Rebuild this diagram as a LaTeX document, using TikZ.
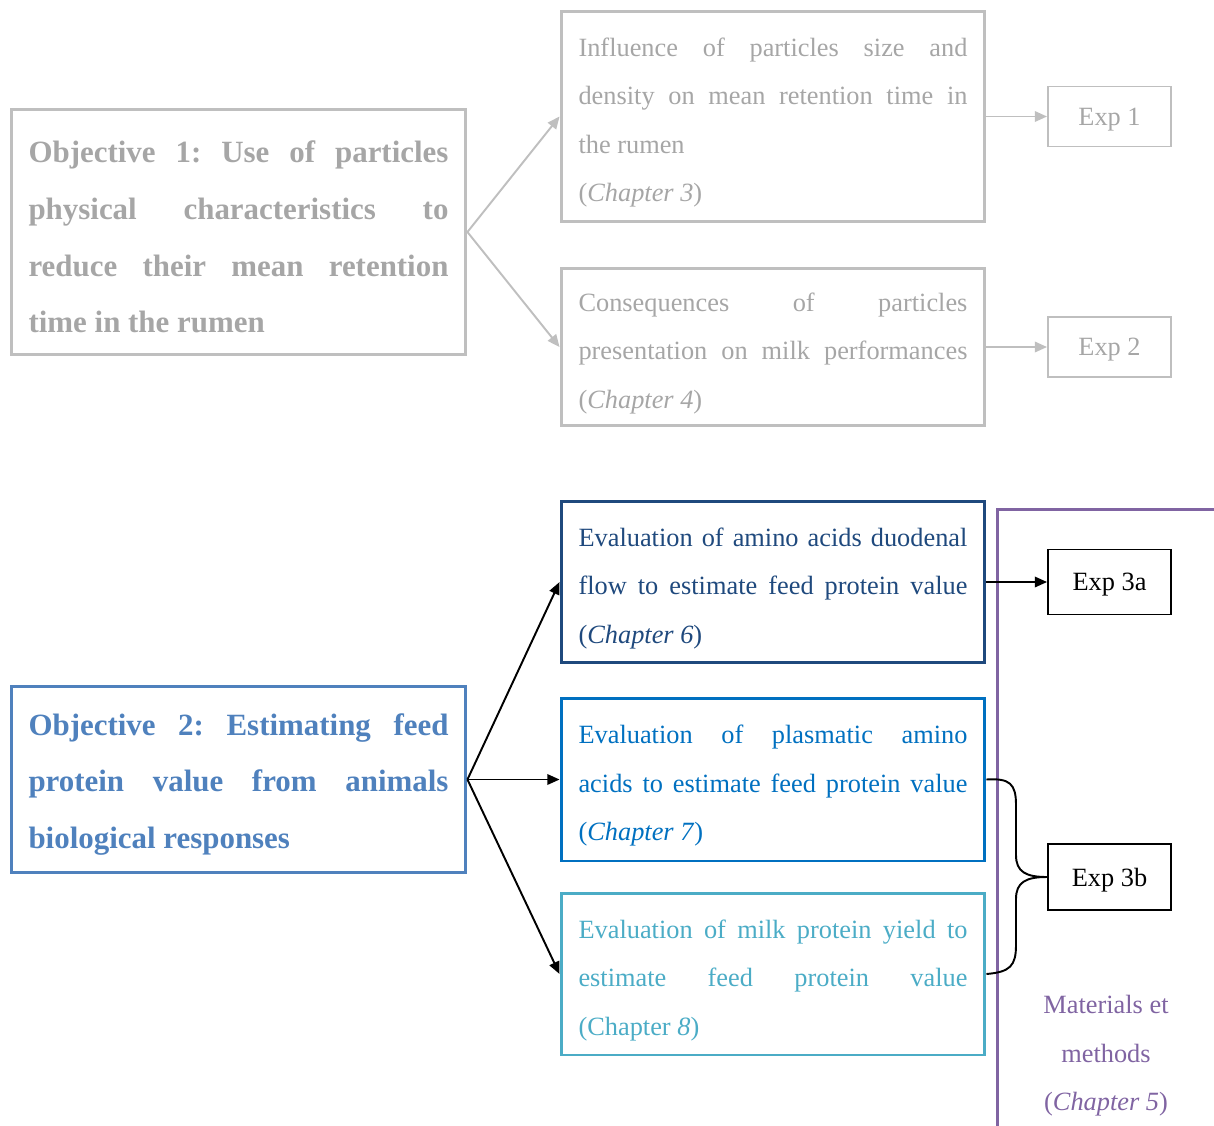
\documentclass[tikz,border=0pt]{standalone}
\usepackage{fontspec}
\setmainfont{Liberation Serif}
\usepackage{xcolor}
\usetikzlibrary{arrows.meta}
\definecolor{boxgray}{HTML}{BFBFBF}
\definecolor{txtgray}{HTML}{A6A6A6}
\definecolor{objblue}{HTML}{4F81BD}
\definecolor{darkblue}{HTML}{1F497D}
\definecolor{midblue}{HTML}{0070C0}
\definecolor{lightblue}{HTML}{4BACC6}
\definecolor{mmpurple}{HTML}{8064A2}
\tolerance=9999
\hyphenpenalty=10000
\frenchspacing
\tikzset{
  txt/.style={font=\fontsize{15}{27.6}\selectfont},
  objbox/.style={draw, line width=1.7pt, text width=8.4cm, inner xsep=0.35cm, inner ysep=0pt,
                 align=justify, font=\fontsize{17.6}{32.3}\selectfont\bfseries,
                 execute at begin node={\leavevmode\rule{0pt}{18pt}}},
  chapbox/.style={draw, line width=1.7pt, text width=7.78cm, inner xsep=0.35cm, inner ysep=0pt,
                  align=justify, txt, execute at begin node={\leavevmode\rule{0pt}{17.5pt}}},
  expbox/.style={draw, minimum width=2.46cm, inner sep=0pt, text depth=0pt, txt},
  grayarrow/.style={boxgray, line width=1.1pt, -{Triangle[length=7pt,width=6pt]}},
  blackarrow/.style={black, line width=1.1pt, -{Triangle[length=7pt,width=6pt]}},
}
\begin{document}
\begin{tikzpicture}[x=0.02cm, y=-0.02cm]
\useasboundingbox (0,0) rectangle (1214,1126);

%%%%------------Objective 1----------------%%
\node [objbox, boxgray, text=txtgray, minimum height=4.9cm] (obj1) at (238.5,232)
  {Objective 1: Use of particles\linebreak physical characteristics to\linebreak reduce their mean retention\linebreak time in the rumen};

\node [chapbox, boxgray, text=txtgray, minimum height=4.22cm] (influence) at (773,116.5)
  {Influence of particles size and\linebreak density on mean retention time in\linebreak the rumen\\(\textit{Chapter 3})};
\node [chapbox, boxgray, text=txtgray, minimum height=3.16cm] (conseq) at (773,347)
  {Consequences of particles\linebreak presentation on milk performances\linebreak (\textit{Chapter 4})};

\node [expbox, boxgray, text=txtgray, line width=1.1pt, minimum height=1.2cm] (exp1) at (1109.5,116.5)	{Exp 1};
\node [expbox, boxgray, text=txtgray, line width=1.1pt, minimum height=1.2cm] (exp2) at (1109.5,347)	{Exp 2};

\draw [grayarrow] (obj1.east) -- (influence.west)		;
\draw [grayarrow] (obj1.east) -- (conseq.west)			;
\draw [grayarrow] (influence.east) -- (exp1.west)		;
\draw [grayarrow] (conseq.east) -- (exp2.west)			;

%%%%------------Objective 2----------------%%
\node [objbox, objblue, text=objblue, minimum height=3.74cm] (obj2) at (238.5,779.5)
  {Objective 2: Estimating feed\linebreak protein value from animals\linebreak biological responses};

\node [chapbox, darkblue, text=darkblue, minimum height=3.24cm] (duoden) at (773,582)
  {Evaluation of amino acids duodenal\linebreak flow to estimate feed protein value\linebreak (\textit{Chapter 6})};
\node [chapbox, midblue, text=midblue, minimum height=3.26cm] (plasma) at (773,779.5)
  {Evaluation of plasmatic amino\linebreak acids to estimate feed protein value\linebreak (\textit{Chapter 7})};
\node [chapbox, lightblue, text=lightblue, minimum height=3.24cm] (milk) at (773,974)
  {Evaluation of milk protein yield to\linebreak estimate feed protein value\linebreak (Chapter \textit{8})};

\draw [blackarrow] (obj2.east) -- (duoden.west)		;
\draw [blackarrow] (obj2.east) -- (plasma.west)		;
\draw [blackarrow] (obj2.east) -- (milk.west)			;

%%%-------------Materials et methods-------------%%%
\draw [mmpurple, line width=1.7pt] (997,1126) -- (997,509) -- (1214,509)	;
\node [txt, text=mmpurple, align=center, font=\fontsize{15}{27.6}\selectfont] (mm) at (1106,1056)
  {Materials et\\methods\\(\textit{Chapter 5})};

%%%-----------Exp 3-----------%%%
\node [expbox, line width=1.1pt, minimum height=1.3cm] (exp3a) at (1109.5,582)	{Exp 3a};
\node [expbox, line width=1.1pt, minimum height=1.32cm] (exp3b) at (1109.5,877)	{Exp 3b};

\draw [blackarrow] (duoden.east) -- (exp3a.west)		;
\draw [line width=1.1pt] (plasma.east) .. controls (1010,778) and (1016,784) .. (1016,805)
   -- (1016,855) .. controls (1016,872) and (1026,877) .. (exp3b.west)	;
\draw [line width=1.1pt] (milk.east) .. controls (1010,972) and (1016,966) .. (1016,945)
   -- (1016,899) .. controls (1016,882) and (1026,877) .. (exp3b.west)	;
\end{tikzpicture}
\end{document}
